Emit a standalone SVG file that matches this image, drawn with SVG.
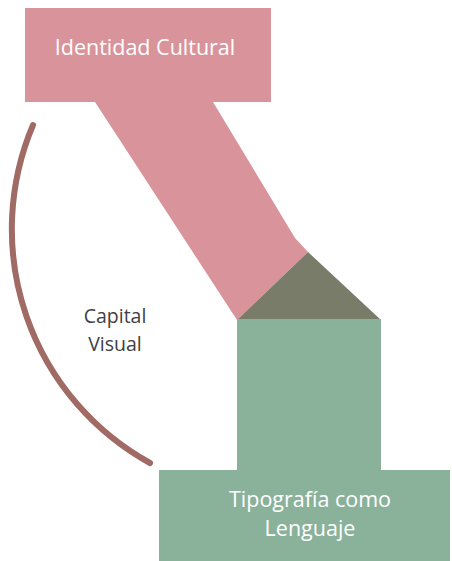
<svg xmlns="http://www.w3.org/2000/svg" width="452" height="561" viewBox="0 0 452 561">
<style>
.pink{fill:#d9939a}
.green{fill:#8ab29b}
.dark{fill:#7a7c6a}
.lbl{font-family:"Open Sans","Liberation Sans",sans-serif;font-size:21.5px;fill:#ffffff;text-anchor:middle}
.cap{font-family:"Open Sans","Liberation Sans",sans-serif;font-size:19.5px;fill:#3f3f44;text-anchor:middle}
.arc{fill:none;stroke:#a06a65;stroke-width:6;stroke-linecap:round}
</style>
<rect width="452" height="561" fill="#ffffff"/>
<g id="connectors">
<polygon class="pink" points="95,102 213,102 295,238 308,252 237,320"/>
<polygon class="dark" points="308,252 381,320 237,320"/>
<rect class="green" x="237" y="319" width="144" height="152"/>
<path class="arc" d="M33,125 A267,267 0 0 0 150,463"/>
</g>
<g id="identidad">
<rect class="pink" x="25" y="8" width="246" height="94"/>
<text class="lbl" x="145" y="55">Identidad Cultural</text>
</g>
<g id="tipografia">
<rect class="green" x="159" y="470" width="291" height="91"/>
<text class="lbl" x="310" y="507">Tipografía como</text>
<text class="lbl" x="310" y="536">Lenguaje</text>
</g>
<g id="capital">
<text class="cap" x="115" y="323">Capital</text>
<text class="cap" x="115" y="351">Visual</text>
</g>
</svg>
